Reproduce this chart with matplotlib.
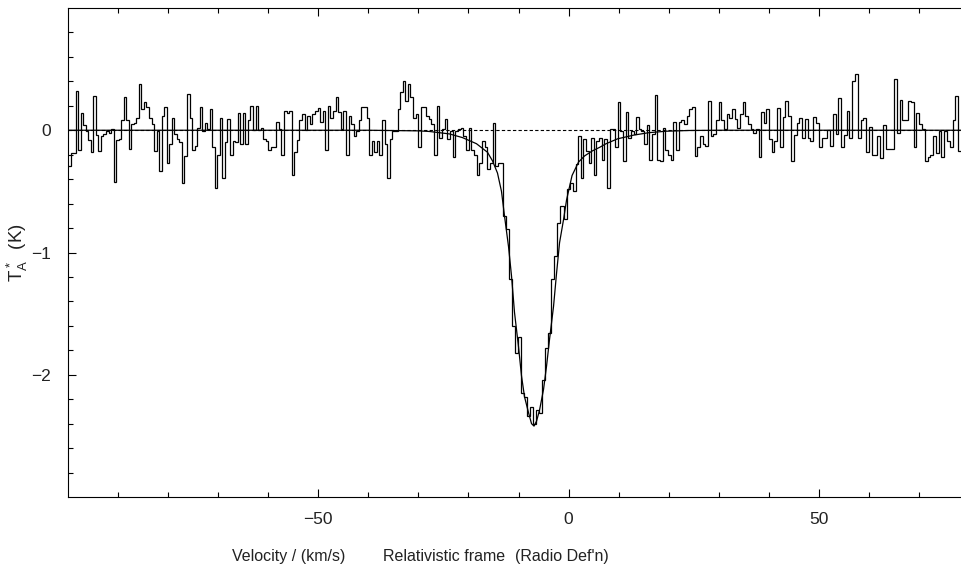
import numpy as np
import matplotlib.pyplot as plt

# Spectrum, in segments (velocity bounds in km/s, T_A* in K)
seg_bounds = [-100.0, -64.6, -29.0, -13.06, 1.4, 6.6, 42.2, 78.4]

seg_a = [-0.29, -0.19, -0.19, 0.32, -0.16, 0.14, 0.04, -0.01, -0.08, -0.18,
         0.28, -0.04, -0.17, -0.05, -0.03, -0.01, -0.02, 0.01, -0.42, -0.08,
         -0.07, 0.08, 0.27, 0.08, -0.15, 0.05, 0.06, 0.10, 0.38, 0.17,
         0.23, 0.19, 0.10, 0.05, -0.17, -0.01, -0.33, 0.12, 0.19, -0.27,
         -0.11, 0.10, -0.03, -0.07, -0.10, -0.43, -0.21, 0.30, 0.10, -0.16,
         -0.13, 0.02, 0.19, -0.01, 0.06, 0.01, 0.17, -0.14, -0.47, -0.20,
         0.10, -0.39, -0.10, 0.09, -0.20, -0.09, -0.10, 0.14, -0.11, 0.14]

seg_b = [-0.11, 0.08, 0.20, 0.00, 0.20, 0.00, 0.02, -0.07, -0.09, -0.16,
         -0.14, -0.14, 0.07, 0.01, -0.20, 0.16, 0.14, 0.16, -0.37, -0.18,
         -0.08, 0.08, 0.13, 0.00, 0.12, 0.05, 0.13, 0.16, 0.18, 0.07,
         0.16, -0.16, 0.20, 0.10, 0.16, 0.27, 0.15, 0.01, 0.16, -0.20,
         0.12, 0.05, -0.05, -0.01, 0.08, 0.19, 0.19, 0.10, -0.20, -0.09,
         -0.18, -0.09, -0.20, 0.08, -0.11, -0.39, -0.07, -0.01, -0.01, 0.17,
         0.31, 0.40, 0.24, 0.38, 0.27, 0.10, 0.13, -0.14, 0.19]

seg_c1 = [0.19, 0.12, 0.09, 0.05, -0.20, 0.20, -0.06, 0.01, 0.09, -0.07,
          -0.01, -0.22, -0.01, 0.01, 0.02, -0.05, -0.16, 0.02, -0.16, -0.20,
          -0.37, -0.27, -0.09, -0.14, -0.32, -0.27, 0.06, -0.29, -0.27, -0.27]

seg_c2 = [-0.70, -0.81, -1.22, -1.60, -1.82, -1.69, -2.15, -2.18, -2.34, -2.26,
          -2.40, -2.29, -2.31, -2.04, -1.78, -1.66, -1.22, -1.03, -0.76, -0.62,
          -0.73, -0.48, -0.43, -0.50]

seg_c3 = [-0.28, -0.05, -0.39, -0.07, -0.17, -0.27, -0.06, -0.37, -0.09, -0.06]

seg_d = [-0.24, -0.07, -0.47, 0.01, 0.01, -0.14, 0.23, -0.01, -0.25, 0.15,
         -0.06, -0.01, -0.03, 0.11, 0.01, -0.01, -0.11, 0.04, -0.24, -0.03,
         0.29, -0.24, -0.25, 0.02, -0.16, -0.20, -0.24, 0.07, -0.16, 0.07,
         0.08, 0.05, 0.12, 0.17, 0.19, -0.21, -0.14, -0.05, -0.11, -0.13,
         0.24, -0.05, -0.03, 0.08, 0.23, 0.08, 0.01, 0.13, 0.10, 0.17,
         0.09, 0.02, 0.13, 0.23, 0.12, 0.05, 0.01, -0.02, 0.01, -0.22,
         0.15, 0.06, 0.17, -0.07, -0.18, -0.09, 0.18]

seg_e = [-0.14, 0.11, 0.24, 0.12, -0.25, -0.04, 0.06, 0.10, -0.06, 0.09,
         -0.06, -0.09, 0.11, 0.06, -0.14, -0.06, -0.06, 0.00, -0.13, 0.13,
         -0.03, 0.26, -0.14, -0.04, 0.16, -0.06, 0.40, 0.46, -0.06, 0.08,
         0.10, -0.18, 0.03, -0.20, -0.20, -0.05, -0.23, 0.04, -0.15, -0.15,
         -0.15, 0.42, -0.02, 0.25, 0.08, 0.08, 0.24, 0.23, -0.14, 0.14,
         0.05, 0.01, -0.25, -0.22, -0.20, -0.05, -0.19, -0.01, -0.22, -0.01,
         -0.09, -0.14, 0.08, 0.28, -0.17]

# Fitted profile, points
fit_v = [-100, -40, -30, -27.8, -23.8, -21.2, -18.4, -16.2, -15.2, -14.2,
         -13.4, -12.8, -12.0, -11.4, -10.8, -10.0, -9.4, -8.8, -8.0, -7.4,
         -6.9, -6.4, -5.8, -5.0, -4.4, -3.8, -3.0, -2.4, -1.8, -1.0,
         -0.4, 0.7, 2.0, 3.2, 4.7, 6.2, 7.5, 9.8, 13.0, 16.0,
         19.5, 24.0, 30.0, 78.4]
fit_t = [0, 0, -0.005, -0.01, -0.03, -0.06, -0.11, -0.18, -0.25, -0.35,
         -0.5, -0.7, -0.95, -1.19, -1.49, -1.77, -2.01, -2.18, -2.31, -2.4,
         -2.42, -2.38, -2.29, -2.12, -1.93, -1.71, -1.44, -1.17, -0.92, -0.73,
         -0.57, -0.37, -0.26, -0.21, -0.17, -0.14, -0.11, -0.07, -0.04, -0.02,
         -0.008, -0.002, 0, 0]

segments = [seg_a, seg_b, seg_c1, seg_c2, seg_c3, seg_d, seg_e]

# build channel edges segment by segment
values = []
edges = [seg_bounds[0]]
for i, seg in enumerate(segments):
    e = np.linspace(seg_bounds[i], seg_bounds[i + 1], len(seg) + 1)
    edges.extend(e[1:])
    values.extend(seg)
values = np.array(values)
edges = np.array(edges)

fig = plt.figure(figsize=(9.61, 5.65), dpi=100)
ax = fig.add_axes([68 / 961, 68 / 565, 893 / 961, 489 / 565])

ax.axhline(0, color='black', lw=0.8, ls=(0, (3, 2)))
ax.stairs(values, edges, color='black', lw=0.9, baseline=None)
ax.plot(fit_v, fit_t, color='black', lw=0.9)

ax.set_xlim(-100, 78.4)
ax.set_ylim(-3, 1)
ax.set_xticks([-50, 0, 50])
ax.set_xticks(np.arange(-90, 78, 10), minor=True)
ax.set_yticks([-2, -1, 0])
ax.set_yticks(np.arange(-2.8, 1.0, 0.2), minor=True)

font = ['Liberation Sans', 'DejaVu Sans']
txt_col = '#222222'
ax.tick_params(which='both', direction='in', top=True, right=False,
               labelsize=12.5, width=0.8)
ax.tick_params(which='major', length=6)
ax.tick_params(which='minor', length=3.5)
ax.tick_params(axis='x', pad=11)
ax.tick_params(axis='y', pad=12)
for lab in ax.get_xticklabels() + ax.get_yticklabels():
    lab.set_family(font)
    lab.set_color(txt_col)
ax.spines['right'].set_visible(False)
for s in ['left', 'bottom', 'top']:
    ax.spines[s].set_linewidth(0.8)

fig.text(17 / 961, 1 - 253 / 565, r'$\mathregular{T_A^*}$  (K)', rotation=90,
         ha='center', va='center', fontsize=13.5, family=font, color=txt_col)
lab_y = 1 - 561 / 565
fig.text(232 / 961, lab_y, 'Velocity / (km/s)', ha='left', va='baseline',
         fontsize=11.5, family=font, color=txt_col)
fig.text(383 / 961, lab_y, 'Relativistic frame', ha='left', va='baseline',
         fontsize=11.5, family=font, color=txt_col)
fig.text(515 / 961, lab_y, "(Radio Def'n)", ha='left', va='baseline',
         fontsize=11.5, family=font, color=txt_col)

fig.savefig('out.png', dpi=100)
